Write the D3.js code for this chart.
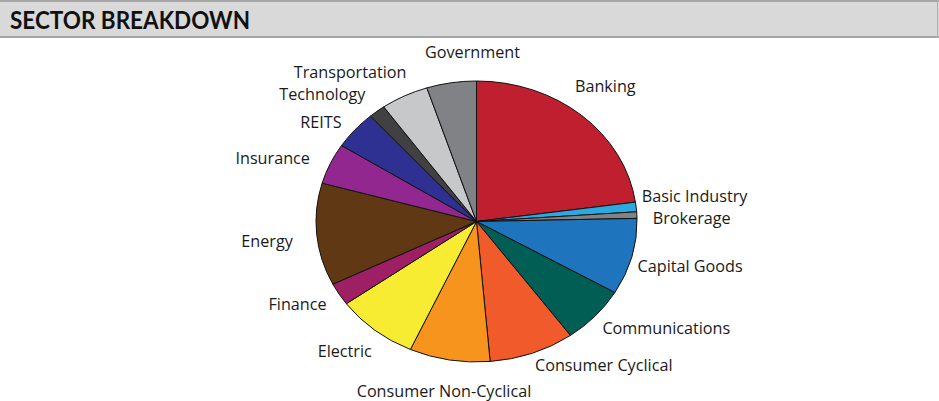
<!DOCTYPE html>
<html>
<head>
<meta charset="utf-8">
<script src="https://cdn.jsdelivr.net/npm/d3@7"></script>
<style>
  body { margin: 0; background: #fff; }
  svg { display: block; }
</style>
</head>
<body>
<svg id="chart" width="939" height="401"></svg>
<script>
// sector weights (%), clockwise from 12 o'clock
var sectors = ['Banking','Basic Industry','Brokerage','Capital Goods','Communications',
  'Consumer Cyclical','Consumer Non-Cyclical','Electric','Finance','Energy',
  'Insurance','REITS','Technology','Transportation','Government']
var weights = [22.8,1.1,0.75,8.8,6.6,8.6,8.1,8.3,2.6,11.75,4.7,4.4,1.7,4.8,5.0]
var colors = ['#c01f2f','#29abe2','#808285','#1f74be','#005e55','#f15a2b','#f7941d',
  '#f7ec31','#9e1f63','#603813','#92278f','#2e3192','#414042','#c7c8ca','#808285']

// label nudges (px) on top of the radial placement
var nudge = {
  'Banking':[-7,-11], 'Basic Industry':[-10,-8], 'Brokerage':[0,5], 'Capital Goods':[-8,4],
  'Communications':[12,-3], 'Consumer Cyclical':[42,-9], 'Consumer Non-Cyclical':[12,9],
  'Electric':[-3,4], 'Finance':[-3,-1], 'Energy':[-8,5], 'Insurance':[-9,5],
  'REITS':[-6,8], 'Technology':[-18,2], 'Transportation':[-22,-2], 'Government':[31,-7]
}

var svg = d3.select('#chart')
var W = 939

// header band
svg.append('rect')
  .attr('x',0).attr('y',0).attr('width',W).attr('height',38)
  .attr('fill','#d9d9d9')
svg.append('line').attr('x1',0).attr('x2',W).attr('y1',1).attr('y2',1)
  .attr('stroke','#a6a6a6').attr('stroke-width',2)
svg.append('line').attr('x1',0).attr('x2',W).attr('y1',37).attr('y2',37)
  .attr('stroke','#a6a6a6').attr('stroke-width',2)
svg.append('line').attr('x1',W-1.5).attr('x2',W-1.5).attr('y1',0).attr('y2',38)
  .attr('stroke','#b0b0b0').attr('stroke-width',1)
svg.append('text')
  .attr('x',10).attr('y',29)
  .attr('font-family','Lato, "Open Sans", sans-serif')
  .attr('font-weight','bold')
  .attr('font-size',25)
  .attr('textLength',240)
  .attr('lengthAdjust','spacingAndGlyphs')
  .attr('fill','#111')
  .text('SECTOR BREAKDOWN')

// pie (elliptical: unit arc scaled)
var conf = { cx:476.5, cy:221.5, rx:160.5, ry:140.5, pad:16 }
var data = sectors.map(function(s,i){ return {name:s, value:weights[i], color:colors[i]} })
var pie = d3.pie().sort(null).value(function(d){ return d.value })
var arcs = pie(data)
var arc = d3.arc().innerRadius(0).outerRadius(1)

var g = svg.append('g')
  .attr('transform',`translate(${conf.cx},${conf.cy}) scale(${conf.rx},${conf.ry})`)
g.selectAll('path')
  .data(arcs)
  .join('path')
  .attr('d',arc)
  .attr('fill',function(d){ return d.data.color })
  .attr('stroke','#111')
  .attr('stroke-width',1)
  .attr('vector-effect','non-scaling-stroke')

// labels
var lab = svg.append('g')
  .attr('font-family','"Open Sans", sans-serif')
  .attr('font-size',16.2)
  .attr('fill','#1a1a1a')
lab.selectAll('text')
  .data(arcs)
  .join('text')
  .attr('text-anchor','middle')
  .text(function(d){ return d.data.name })
  .each(function(d){
    var a = (d.startAngle+d.endAngle)/2
    var s = Math.sin(a), c = Math.cos(a)
    var w = this.getComputedTextLength(), h = 14
    var px = conf.cx + (conf.rx+conf.pad)*s
    var py = conf.cy - (conf.ry+conf.pad)*c
    var n = nudge[d.data.name] || [0,0]
    var x = px + w/2*s + n[0]
    var y = py - h/2*c + n[1]
    d3.select(this).attr('x',x).attr('y',y+5)
  })
</script>
</body>
</html>
